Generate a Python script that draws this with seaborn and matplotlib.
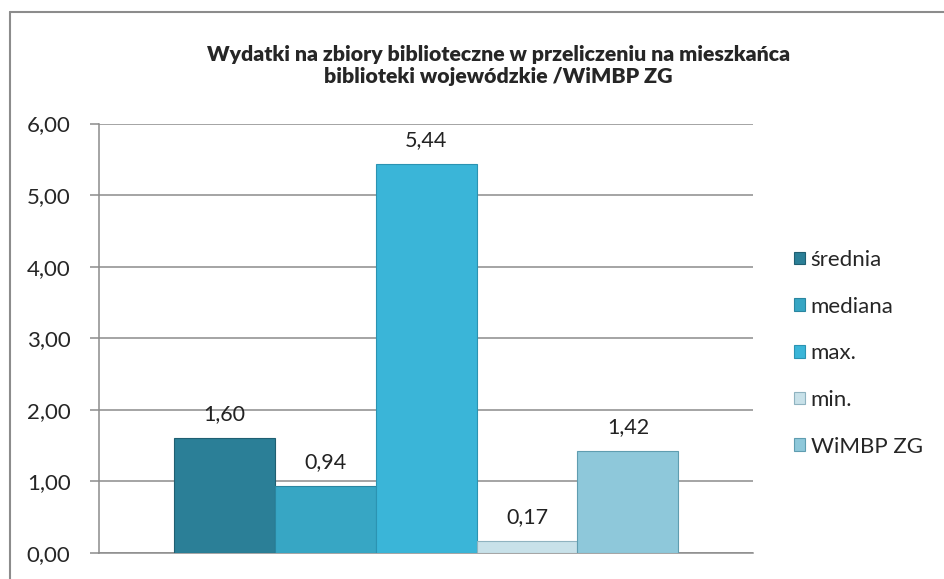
import matplotlib
matplotlib.use("Agg")
import matplotlib.pyplot as plt
import matplotlib.patches as mpatches
import matplotlib.lines as mlines
import seaborn as sns
import pandas as pd

series = ["średnia", "mediana", "max.", "min.", "WiMBP ZG"]
values = [1.60, 0.94, 5.44, 0.17, 1.42]
colors = ["#2b7f97", "#37a6c4", "#3ab5d8", "#c8e1e9", "#8ec8da"]
edge_colors = ["#1f5f72", "#2a86a0", "#2b93b2", "#8fb3c0", "#5f9db0"]
yticks = [0, 1, 2, 3, 4, 5, 6]

sns.set_theme(style="white")
plt.rcParams["font.family"] = ["Lato", "DejaVu Sans"]

df = pd.DataFrame({"grp": [""] * len(series), "serie": series, "val": values})

fig = plt.figure(figsize=(9.44, 5.79), dpi=100)
ax = fig.add_axes([0.1049, 0.0449, 0.6928, 0.7418])

sns.barplot(
    data=df, x="grp", y="val", hue="serie", hue_order=series,
    palette=colors, width=0.772, ax=ax, legend=False, saturation=1
)

for patch, ec in zip(ax.patches, edge_colors):
    patch.set_edgecolor(ec)
    patch.set_linewidth(0.8)
    patch.set_zorder(3)

for cont in ax.containers:
    ax.bar_label(
        cont, labels=[f"{v:.2f}".replace(".", ",") for v in cont.datavalues],
        padding=10, fontsize=15.5, color="#222222"
    )

ax.set_xlim(-0.5, 0.5)
ax.set_ylim(0, 6)
ax.set_yticks(yticks)
ax.set_yticklabels([f"{t:.2f}".replace(".", ",") for t in yticks], fontsize=16)
ax.set_xticks([])
ax.set_xlabel("")
ax.set_ylabel("")
ax.yaxis.grid(True, color="#8c8c8c", linewidth=1.1, zorder=0)
ax.set_axisbelow(True)
ax.tick_params(axis="y", left=True, length=6.5, width=1.1, color="#8c8c8c", pad=14)
for side in ["top", "right"]:
    ax.spines[side].set_visible(False)
ax.spines["left"].set_color("#8c8c8c")
ax.spines["left"].set_linewidth(1.1)
ax.spines["bottom"].set_color("#8c8c8c")
ax.spines["bottom"].set_linewidth(1.1)

fig.text(
    0.528, 0.887,
    "Wydatki na zbiory biblioteczne w przeliczeniu na mieszkańca\nbiblioteki wojewódzkie /WiMBP ZG",
    ha="center", va="center", fontsize=15.3, fontweight="heavy", linespacing=1.22
)

handles = [
    mpatches.Patch(facecolor=c, edgecolor=e, linewidth=0.8, label=s)
    for s, c, e in zip(series, colors, edge_colors)
]
fig.legend(
    handles=handles, loc="center left", bbox_to_anchor=(0.82, 0.39),
    frameon=False, fontsize=16, handlelength=0.5, handleheight=0.5,
    handletextpad=0.25, labelspacing=1.2
)

# chart border (cropped Excel frame)
fig.add_artist(mlines.Line2D([10 / 944, 10 / 944], [0, 1 - 12 / 579],
                             transform=fig.transFigure, color="#8c8c8c", linewidth=1.5))
fig.add_artist(mlines.Line2D([10 / 944, 1], [1 - 12 / 579, 1 - 12 / 579],
                             transform=fig.transFigure, color="#8c8c8c", linewidth=1.5))

fig.savefig("out.png", dpi=100)
